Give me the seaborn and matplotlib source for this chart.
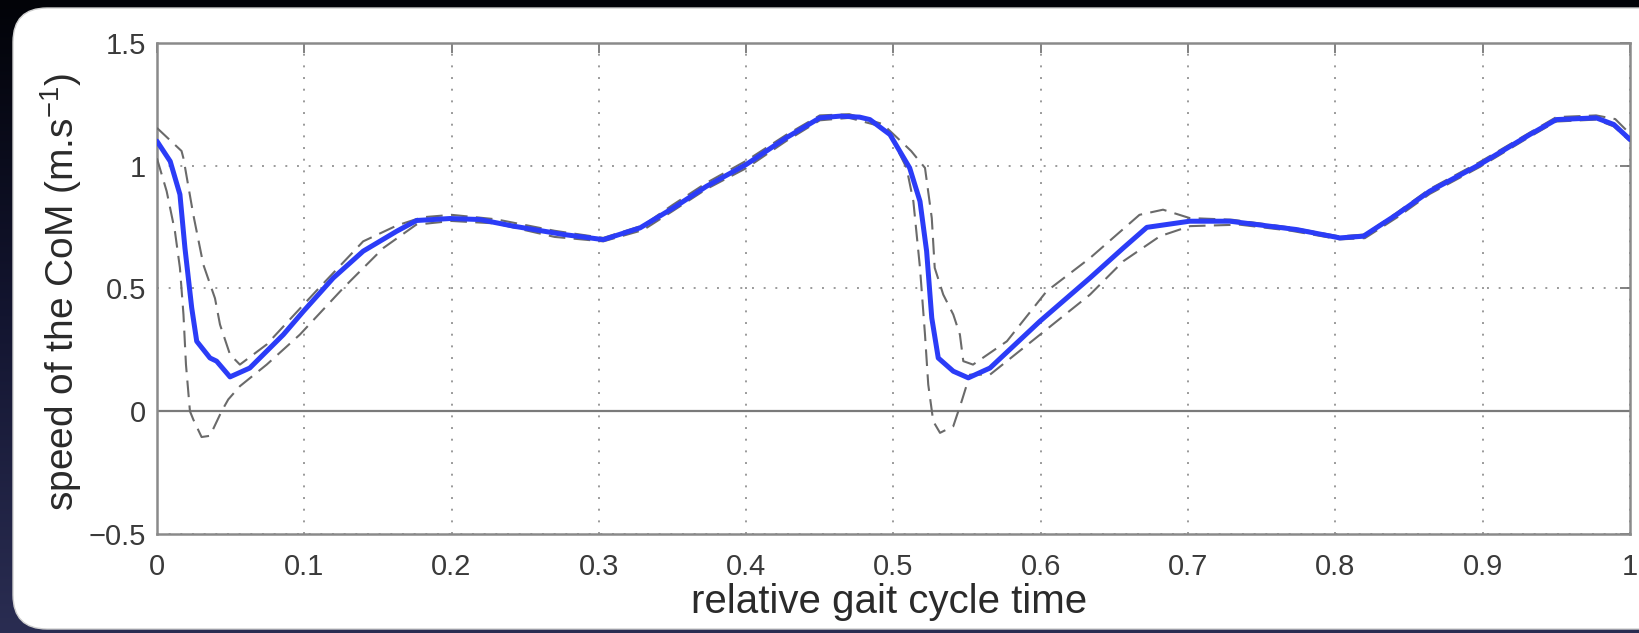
import numpy as np
import pandas as pd
import matplotlib
matplotlib.use("Agg")
import matplotlib.pyplot as plt
from matplotlib.patches import FancyBboxPatch
from matplotlib.colors import LinearSegmentedColormap
import seaborn as sns

# === Data ===
mean_x = [0, 0.009, 0.0156, 0.019, 0.0236, 0.027, 0.036, 0.0405, 0.0496, 0.063, 0.0858,
          0.0994, 0.1197, 0.14, 0.1627, 0.1763, 0.199, 0.219, 0.242, 0.276, 0.303, 0.328,
          0.3505, 0.373, 0.400, 0.427, 0.450, 0.4637, 0.477, 0.484, 0.4976, 0.511, 0.518,
          0.5225, 0.526, 0.5304, 0.5406, 0.5508, 0.5655, 0.5995, 0.6334, 0.656, 0.672,
          0.701, 0.7284, 0.7737, 0.803, 0.819, 0.8416, 0.864, 0.898, 0.932, 0.950, 0.977,
          0.989, 1.0]
mean_y = [1.10, 1.018, 0.883, 0.665, 0.421, 0.285, 0.217, 0.204, 0.14, 0.176, 0.312,
          0.407, 0.543, 0.652, 0.733, 0.777, 0.785, 0.781, 0.754, 0.72, 0.699, 0.747,
          0.828, 0.916, 1.005, 1.113, 1.195, 1.202, 1.198, 1.188, 1.127, 0.991, 0.855,
          0.652, 0.380, 0.217, 0.163, 0.136, 0.176, 0.367, 0.543, 0.665, 0.749,
          0.774, 0.774, 0.740, 0.706, 0.713, 0.801, 0.896, 1.005, 1.127, 1.188, 1.195,
          1.168, 1.107]

upper_x = [0, 0.0167, 0.018, 0.0247, 0.0315, 0.0394, 0.0428, 0.0496, 0.0563, 0.0745,
           0.108, 0.14, 0.163, 0.18, 0.2, 0.23, 0.27, 0.303, 0.33, 0.35, 0.373, 0.40,
           0.427, 0.45, 0.47, 0.4926, 0.505, 0.512, 0.5214, 0.526, 0.528, 0.5338, 0.5406,
           0.5451, 0.5474, 0.554, 0.577, 0.604, 0.6334, 0.667, 0.683, 0.701, 0.73, 0.77,
           0.803, 0.82, 0.842, 0.864, 0.898, 0.932, 0.95, 0.977, 0.99, 1.0]
upper_y = [1.154, 1.06, 1.03, 0.80, 0.597, 0.46, 0.353, 0.231, 0.19, 0.272,
           0.489, 0.692, 0.757, 0.79, 0.80, 0.782, 0.735, 0.706, 0.757, 0.84, 0.93, 1.02,
           1.125, 1.205, 1.21, 1.17, 1.10, 1.06, 0.991, 0.787, 0.584, 0.475, 0.394,
           0.312, 0.204, 0.19, 0.285, 0.489, 0.624, 0.80, 0.821, 0.787, 0.78, 0.748,
           0.712, 0.72, 0.81, 0.905, 1.015, 1.135, 1.198, 1.205, 1.19, 1.13]

lower_x = [0, 0.0066, 0.0122, 0.0156, 0.018, 0.0197, 0.0224, 0.0247, 0.0303, 0.036,
           0.0439, 0.0484, 0.0563, 0.0745, 0.097, 0.1265, 0.1537, 0.176, 0.2, 0.23,
           0.27, 0.303, 0.33, 0.35, 0.373, 0.40, 0.427, 0.45, 0.47, 0.4954, 0.5089,
           0.5135, 0.518, 0.5214, 0.5236, 0.527, 0.5316, 0.5406, 0.5463, 0.5519, 0.5655,
           0.5995, 0.6334, 0.656, 0.6809, 0.7013, 0.735, 0.77, 0.803, 0.82, 0.842, 0.864,
           0.898, 0.932, 0.95, 0.977, 0.989, 1.0]
lower_y = [1.03, 0.896, 0.733, 0.584, 0.394, 0.19, 0.0, -0.034, -0.105, -0.10,
           0.0, 0.048, 0.102, 0.19, 0.312, 0.502, 0.665, 0.760, 0.775, 0.765,
           0.71, 0.692, 0.738, 0.815, 0.905, 0.99, 1.10, 1.185, 1.195, 1.154, 0.991,
           0.855, 0.584, 0.312, 0.109, -0.041, -0.088, -0.061, 0.041, 0.149, 0.149,
           0.312, 0.475, 0.611, 0.713, 0.754, 0.76, 0.735, 0.70, 0.705, 0.79, 0.885,
           0.995, 1.118, 1.18, 1.188, 1.16, 1.10]

x_ticks = [0, 0.1, 0.2, 0.3, 0.4, 0.5, 0.6, 0.7, 0.8, 0.9, 1]
x_tick_labels = ["0", "0.1", "0.2", "0.3", "0.4", "0.5", "0.6", "0.7", "0.8", "0.9", "1"]
y_ticks = [-0.5, 0, 0.5, 1, 1.5]
y_tick_labels = ["\u22120.5", "0", "0.5", "1", "1.5"]

# === Style ===
sns.set_theme(style="white")
plt.rcParams['font.family'] = ['Liberation Sans', 'DejaVu Sans']
plt.rcParams['mathtext.fontset'] = 'custom'
plt.rcParams['mathtext.rm'] = 'Liberation Sans'
plt.rcParams['mathtext.it'] = 'Liberation Sans:italic'

fig = plt.figure(figsize=(16.4, 6.33), dpi=100)

# dark backdrop + white rounded panel
bg = fig.add_axes([0, 0, 1, 1], zorder=-10)
bg_cmap = LinearSegmentedColormap.from_list("bg", ["#020308", "#131530", "#2a2d52"])
bg.imshow(np.linspace(0, 1, 256).reshape(-1, 1), aspect="auto", cmap=bg_cmap,
          extent=[0, 1640, 633, 0])
bg.add_patch(FancyBboxPatch((13, 8), 1660, 621, boxstyle="round,pad=0,rounding_size=34",
                            fc="white", ec="#d0d0d0", lw=1))
bg.set_xlim(0, 1640)
bg.set_ylim(633, 0)
bg.axis("off")

ax = fig.add_axes([0.0957, 0.1564, 0.8982, 0.7757])
ax.set_facecolor("white")

# === Curves ===
dash_style = (0, (8, 4))
sns.lineplot(x=upper_x, y=upper_y, ax=ax, sort=False, estimator=None,
             color="#6a6a6a", lw=1.5, linestyle=dash_style, zorder=3)
sns.lineplot(x=lower_x, y=lower_y, ax=ax, sort=False, estimator=None,
             color="#6a6a6a", lw=1.5, linestyle=dash_style, zorder=3)
sns.lineplot(x=mean_x, y=mean_y, ax=ax, sort=False, estimator=None,
             color="#2b3cf7", lw=3.6, zorder=4)
ax.axhline(0, color="#7a7a7a", lw=1.6, zorder=2)

# === Axes ===
ax.set_xlim(0, 1)
ax.set_ylim(-0.5, 1.5)
ax.set_xticks(x_ticks)
ax.set_xticklabels(x_tick_labels)
ax.set_yticks(y_ticks)
ax.set_yticklabels(y_tick_labels)
ax.grid(True, linestyle=(0, (1, 5)), color="#9a9a9a", lw=1.4)
ax.tick_params(direction="in", length=7, width=1.3, color="#777777",
               top=True, right=True, labelsize=21, labelcolor="#3a3a3a")
ax.tick_params(axis="x", pad=14)
ax.tick_params(axis="y", pad=8)
for sp in ax.spines.values():
    sp.set_color("#8a8a8a")
    sp.set_linewidth(1.8)
    sp.set_visible(True)

ax.set_xlabel("relative gait cycle time", fontsize=29, color="#2a2a2a")
ax.set_ylabel("speed of the CoM (m.s$^{-1}$)", fontsize=28, color="#2a2a2a")
ax.xaxis.set_label_coords(0.497, -0.1)
ax.yaxis.set_label_coords(-0.0496, 0.494)
ax.xaxis.label.set_va("top")

fig.savefig("out.png", dpi=100)
